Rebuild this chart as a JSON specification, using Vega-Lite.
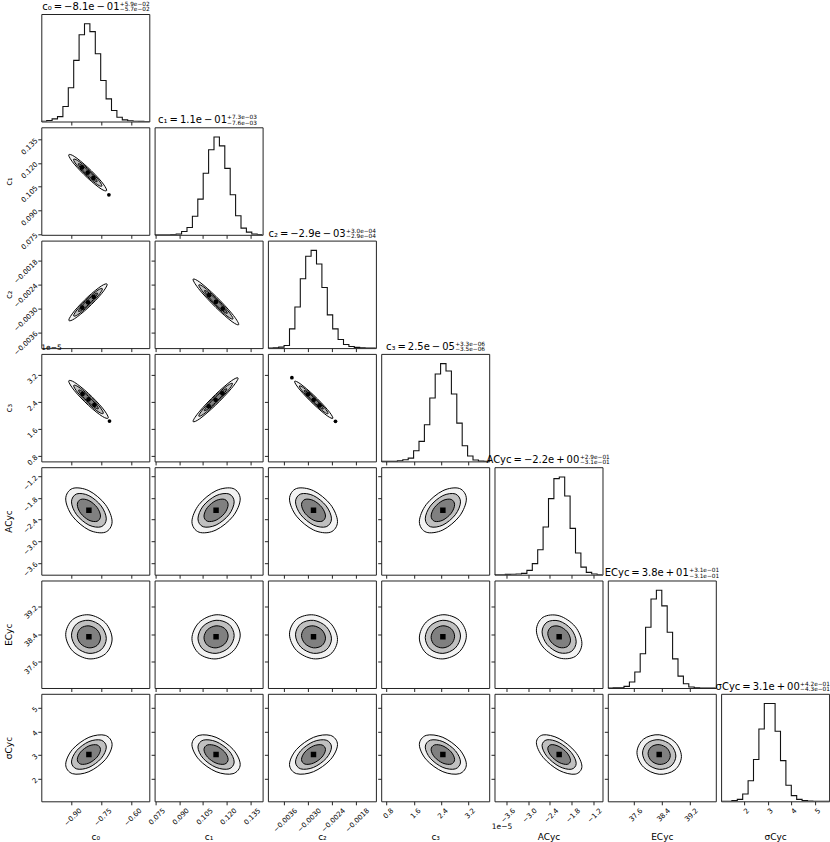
{
"$schema": "https://vega.github.io/schema/vega-lite/v6.json",
"padding": {"left": 3.3, "top": 0, "right": 0, "bottom": 0},
"background": "white",
"columns": 7,
"spacing": 5.3,
"bounds": "flush",
"config": {
"font": "DejaVu Sans",
"view": {"stroke": "#222", "strokeWidth": 1},
"axis": {"grid": false, "domain": false, "tickColor": "#222", "tickSize": 3.5, "tickWidth": 1, "tickCount": 10, "labelFontSize": 7, "labelColor": "#000", "labelAngle": -45, "labelFlush": false, "labelOverlap": false, "labelPadding": 1.5, "titleFontSize": 9, "titleFontWeight": "normal", "titleColor": "#000", "titlePadding": 2},
"title": {"fontWeight": "normal", "color": "#000"}
},
"datasets": {
"h": [
{"v":"c0","x":-1.05,"n":0.2},{"v":"c0","x":-1.023,"n":1},{"v":"c0","x":-0.996,"n":2.7},{"v":"c0","x":-0.969,"n":5},{"v":"c0","x":-0.942,"n":15.4},{"v":"c0","x":-0.915,"n":34.5},{"v":"c0","x":-0.888,"n":62.5},{"v":"c0","x":-0.861,"n":88.7},{"v":"c0","x":-0.834,"n":100},{"v":"c0","x":-0.807,"n":92},{"v":"c0","x":-0.78,"n":69.3},{"v":"c0","x":-0.753,"n":42},{"v":"c0","x":-0.726,"n":23.2},{"v":"c0","x":-0.699,"n":11.3},{"v":"c0","x":-0.672,"n":4.4},{"v":"c0","x":-0.645,"n":1.7},{"v":"c0","x":-0.618,"n":0.7},{"v":"c0","x":-0.591,"n":0.3},{"v":"c0","x":-0.564,"n":0.1},{"v":"c0","x":-0.537,"n":0},{"v":"c0","x":-0.51,"n":0},
{"v":"c1","x":0.0745,"n":0},{"v":"c1","x":0.0779,"n":0},{"v":"c1","x":0.0813,"n":0.1},{"v":"c1","x":0.0847,"n":0.3},{"v":"c1","x":0.0881,"n":0.7},{"v":"c1","x":0.0915,"n":3.4},{"v":"c1","x":0.0949,"n":7.5},{"v":"c1","x":0.0983,"n":19},{"v":"c1","x":0.1017,"n":36.5},{"v":"c1","x":0.1051,"n":63},{"v":"c1","x":0.1085,"n":87},{"v":"c1","x":0.1119,"n":100},{"v":"c1","x":0.1153,"n":91},{"v":"c1","x":0.1187,"n":68},{"v":"c1","x":0.1221,"n":41},{"v":"c1","x":0.1255,"n":19.5},{"v":"c1","x":0.1289,"n":6.8},{"v":"c1","x":0.1323,"n":2.7},{"v":"c1","x":0.1357,"n":0.7},{"v":"c1","x":0.1391,"n":0.2},{"v":"c1","x":0.1425,"n":0.2},
{"v":"c2","x":-0.004,"n":0},{"v":"c2","x":-0.003865,"n":0.3},{"v":"c2","x":-0.00373,"n":1},{"v":"c2","x":-0.003595,"n":2.7},{"v":"c2","x":-0.00346,"n":19.7},{"v":"c2","x":-0.003325,"n":42},{"v":"c2","x":-0.00319,"n":71},{"v":"c2","x":-0.003055,"n":94},{"v":"c2","x":-0.00292,"n":100},{"v":"c2","x":-0.002785,"n":86},{"v":"c2","x":-0.00265,"n":62},{"v":"c2","x":-0.002515,"n":34},{"v":"c2","x":-0.00238,"n":19.7},{"v":"c2","x":-0.002245,"n":8.8},{"v":"c2","x":-0.00211,"n":3.7},{"v":"c2","x":-0.001975,"n":1.7},{"v":"c2","x":-0.00184,"n":0.7},{"v":"c2","x":-0.001705,"n":0.2},{"v":"c2","x":-0.00157,"n":0},{"v":"c2","x":-0.001435,"n":0},{"v":"c2","x":-0.0013,"n":0},
{"v":"c3","x":0.64,"n":0},{"v":"c3","x":0.7985,"n":0},{"v":"c3","x":0.957,"n":0},{"v":"c3","x":1.1155,"n":0.7},{"v":"c3","x":1.274,"n":1.7},{"v":"c3","x":1.4325,"n":3.4},{"v":"c3","x":1.591,"n":10.9},{"v":"c3","x":1.7495,"n":20.5},{"v":"c3","x":1.908,"n":37.5},{"v":"c3","x":2.0665,"n":64.8},{"v":"c3","x":2.225,"n":89.4},{"v":"c3","x":2.3835,"n":100},{"v":"c3","x":2.542,"n":92.5},{"v":"c3","x":2.7005,"n":68.9},{"v":"c3","x":2.859,"n":39.2},{"v":"c3","x":3.0175,"n":16},{"v":"c3","x":3.176,"n":5.5},{"v":"c3","x":3.3345,"n":1.4},{"v":"c3","x":3.493,"n":0.3},{"v":"c3","x":3.6515,"n":0},{"v":"c3","x":3.81,"n":0},
{"v":"A","x":-3.93,"n":0},{"v":"A","x":-3.7805,"n":0},{"v":"A","x":-3.631,"n":0.3},{"v":"A","x":-3.4815,"n":0.5},{"v":"A","x":-3.332,"n":0.7},{"v":"A","x":-3.1825,"n":1.4},{"v":"A","x":-3.033,"n":4.4},{"v":"A","x":-2.8835,"n":11.3},{"v":"A","x":-2.734,"n":25.6},{"v":"A","x":-2.5845,"n":48.8},{"v":"A","x":-2.435,"n":77.8},{"v":"A","x":-2.2855,"n":98.3},{"v":"A","x":-2.136,"n":100},{"v":"A","x":-1.9865,"n":80.5},{"v":"A","x":-1.837,"n":47.4},{"v":"A","x":-1.6875,"n":22.2},{"v":"A","x":-1.538,"n":7.8},{"v":"A","x":-1.3885,"n":2.4},{"v":"A","x":-1.239,"n":0.7},{"v":"A","x":-1.0895,"n":0},{"v":"A","x":-0.94,"n":0},
{"v":"E","x":36.84,"n":0},{"v":"E","x":36.9955,"n":0.2},{"v":"E","x":37.151,"n":0.3},{"v":"E","x":37.3065,"n":1.7},{"v":"E","x":37.462,"n":6.1},{"v":"E","x":37.6175,"n":16.3},{"v":"E","x":37.773,"n":35},{"v":"E","x":37.9285,"n":62.2},{"v":"E","x":38.084,"n":91},{"v":"E","x":38.2395,"n":100},{"v":"E","x":38.395,"n":84},{"v":"E","x":38.5505,"n":57},{"v":"E","x":38.706,"n":29.8},{"v":"E","x":38.8615,"n":12.2},{"v":"E","x":39.017,"n":4.4},{"v":"E","x":39.1725,"n":1},{"v":"E","x":39.328,"n":0.3},{"v":"E","x":39.4835,"n":0},{"v":"E","x":39.639,"n":0},{"v":"E","x":39.7945,"n":0},{"v":"E","x":39.95,"n":0},
{"v":"S","x":1.04,"n":0},{"v":"S","x":1.2675,"n":0},{"v":"S","x":1.495,"n":0.7},{"v":"S","x":1.7225,"n":2},{"v":"S","x":1.95,"n":7.5},{"v":"S","x":2.1775,"n":21},{"v":"S","x":2.405,"n":42.7},{"v":"S","x":2.6325,"n":74},{"v":"S","x":2.86,"n":100},{"v":"S","x":3.0875,"n":100},{"v":"S","x":3.315,"n":71.7},{"v":"S","x":3.5425,"n":41.6},{"v":"S","x":3.77,"n":16.4},{"v":"S","x":3.9975,"n":5.8},{"v":"S","x":4.225,"n":2},{"v":"S","x":4.4525,"n":0.7},{"v":"S","x":4.68,"n":0.3},{"v":"S","x":4.9075,"n":0},{"v":"S","x":5.135,"n":0},{"v":"S","x":5.3625,"n":0},{"v":"S","x":5.59,"n":0}
],
"c": [
{"p":"10","k":"a","i":0,"x":-0.723,"y":0.1027},{"p":"10","k":"a","i":1,"x":-0.7508,"y":0.1084},{"p":"10","k":"a","i":2,"x":-0.818,"y":0.1172},{"p":"10","k":"a","i":3,"x":-0.8852,"y":0.1241},{"p":"10","k":"a","i":4,"x":-0.913,"y":0.1249},{"p":"10","k":"a","i":5,"x":-0.8852,"y":0.1192},{"p":"10","k":"a","i":6,"x":-0.818,"y":0.1104},{"p":"10","k":"a","i":7,"x":-0.7508,"y":0.1035},
{"p":"10","k":"b","i":0,"x":-0.7468,"y":0.1055},{"p":"10","k":"b","i":1,"x":-0.7676,"y":0.1098},{"p":"10","k":"b","i":2,"x":-0.818,"y":0.1164},{"p":"10","k":"b","i":3,"x":-0.8684,"y":0.1215},{"p":"10","k":"b","i":4,"x":-0.8893,"y":0.1221},{"p":"10","k":"b","i":5,"x":-0.8684,"y":0.1179},{"p":"10","k":"b","i":6,"x":-0.818,"y":0.1112},{"p":"10","k":"b","i":7,"x":-0.7676,"y":0.1061},
{"p":"10","k":"c","i":0,"x":-0.7705,"y":0.1083},{"p":"10","k":"c","i":1,"x":-0.7844,"y":0.1111},{"p":"10","k":"c","i":2,"x":-0.818,"y":0.1155},{"p":"10","k":"c","i":3,"x":-0.8516,"y":0.1189},{"p":"10","k":"c","i":4,"x":-0.8655,"y":0.1193},{"p":"10","k":"c","i":5,"x":-0.8516,"y":0.1165},{"p":"10","k":"c","i":6,"x":-0.818,"y":0.1121},{"p":"10","k":"c","i":7,"x":-0.7844,"y":0.1087},
{"p":"20","k":"a","i":0,"x":-0.7205,"y":-0.002403},{"p":"20","k":"a","i":1,"x":-0.7486,"y":-0.002436},{"p":"20","k":"a","i":2,"x":-0.8165,"y":-0.002711},{"p":"20","k":"a","i":3,"x":-0.8844,"y":-0.003068},{"p":"20","k":"a","i":4,"x":-0.9125,"y":-0.003297},{"p":"20","k":"a","i":5,"x":-0.8844,"y":-0.003264},{"p":"20","k":"a","i":6,"x":-0.8165,"y":-0.002989},{"p":"20","k":"a","i":7,"x":-0.7486,"y":-0.002632},
{"p":"20","k":"b","i":0,"x":-0.7445,"y":-0.002515},{"p":"20","k":"b","i":1,"x":-0.7656,"y":-0.002539},{"p":"20","k":"b","i":2,"x":-0.8165,"y":-0.002746},{"p":"20","k":"b","i":3,"x":-0.8674,"y":-0.003014},{"p":"20","k":"b","i":4,"x":-0.8885,"y":-0.003185},{"p":"20","k":"b","i":5,"x":-0.8674,"y":-0.003161},{"p":"20","k":"b","i":6,"x":-0.8165,"y":-0.002954},{"p":"20","k":"b","i":7,"x":-0.7656,"y":-0.002687},
{"p":"20","k":"c","i":0,"x":-0.7685,"y":-0.002627},{"p":"20","k":"c","i":1,"x":-0.7826,"y":-0.002643},{"p":"20","k":"c","i":2,"x":-0.8165,"y":-0.002781},{"p":"20","k":"c","i":3,"x":-0.8504,"y":-0.002959},{"p":"20","k":"c","i":4,"x":-0.8645,"y":-0.003073},{"p":"20","k":"c","i":5,"x":-0.8504,"y":-0.003057},{"p":"20","k":"c","i":6,"x":-0.8165,"y":-0.002919},{"p":"20","k":"c","i":7,"x":-0.7826,"y":-0.002741},
{"p":"21","k":"a","i":0,"x":0.1275,"y":-0.003403},{"p":"21","k":"a","i":1,"x":0.1233,"y":-0.003138},{"p":"21","k":"a","i":2,"x":0.1131,"y":-0.002699},{"p":"21","k":"a","i":3,"x":0.1029,"y":-0.002343},{"p":"21","k":"a","i":4,"x":0.0987,"y":-0.002277},{"p":"21","k":"a","i":5,"x":0.1029,"y":-0.002542},{"p":"21","k":"a","i":6,"x":0.1131,"y":-0.002981},{"p":"21","k":"a","i":7,"x":0.1233,"y":-0.003337},
{"p":"21","k":"b","i":0,"x":0.1239,"y":-0.003262},{"p":"21","k":"b","i":1,"x":0.1207,"y":-0.003064},{"p":"21","k":"b","i":2,"x":0.1131,"y":-0.002734},{"p":"21","k":"b","i":3,"x":0.1055,"y":-0.002467},{"p":"21","k":"b","i":4,"x":0.1023,"y":-0.002418},{"p":"21","k":"b","i":5,"x":0.1055,"y":-0.002617},{"p":"21","k":"b","i":6,"x":0.1131,"y":-0.002946},{"p":"21","k":"b","i":7,"x":0.1207,"y":-0.003213},
{"p":"21","k":"c","i":0,"x":0.1203,"y":-0.003121},{"p":"21","k":"c","i":1,"x":0.1182,"y":-0.002989},{"p":"21","k":"c","i":2,"x":0.1131,"y":-0.00277},{"p":"21","k":"c","i":3,"x":0.108,"y":-0.002591},{"p":"21","k":"c","i":4,"x":0.1059,"y":-0.002559},{"p":"21","k":"c","i":5,"x":0.108,"y":-0.002691},{"p":"21","k":"c","i":6,"x":0.1131,"y":-0.002911},{"p":"21","k":"c","i":7,"x":0.1182,"y":-0.003089},
{"p":"30","k":"a","i":0,"x":-0.715,"y":1.931},{"p":"30","k":"a","i":1,"x":-0.744,"y":2.213},{"p":"30","k":"a","i":2,"x":-0.814,"y":2.644},{"p":"30","k":"a","i":3,"x":-0.884,"y":2.972},{"p":"30","k":"a","i":4,"x":-0.913,"y":3.005},{"p":"30","k":"a","i":5,"x":-0.884,"y":2.723},{"p":"30","k":"a","i":6,"x":-0.814,"y":2.292},{"p":"30","k":"a","i":7,"x":-0.744,"y":1.964},
{"p":"30","k":"b","i":0,"x":-0.7398,"y":2.065},{"p":"30","k":"b","i":1,"x":-0.7615,"y":2.277},{"p":"30","k":"b","i":2,"x":-0.814,"y":2.6},{"p":"30","k":"b","i":3,"x":-0.8665,"y":2.846},{"p":"30","k":"b","i":4,"x":-0.8883,"y":2.871},{"p":"30","k":"b","i":5,"x":-0.8665,"y":2.659},{"p":"30","k":"b","i":6,"x":-0.814,"y":2.336},{"p":"30","k":"b","i":7,"x":-0.7615,"y":2.09},
{"p":"30","k":"c","i":0,"x":-0.7645,"y":2.2},{"p":"30","k":"c","i":1,"x":-0.779,"y":2.341},{"p":"30","k":"c","i":2,"x":-0.814,"y":2.556},{"p":"30","k":"c","i":3,"x":-0.849,"y":2.72},{"p":"30","k":"c","i":4,"x":-0.8635,"y":2.736},{"p":"30","k":"c","i":5,"x":-0.849,"y":2.595},{"p":"30","k":"c","i":6,"x":-0.814,"y":2.38},{"p":"30","k":"c","i":7,"x":-0.779,"y":2.216},
{"p":"31","k":"a","i":0,"x":0.1271,"y":3.091},{"p":"31","k":"a","i":1,"x":0.1229,"y":3.018},{"p":"31","k":"a","i":2,"x":0.1129,"y":2.616},{"p":"31","k":"a","i":3,"x":0.1029,"y":2.121},{"p":"31","k":"a","i":4,"x":0.0987,"y":1.823},{"p":"31","k":"a","i":5,"x":0.1029,"y":1.896},{"p":"31","k":"a","i":6,"x":0.1129,"y":2.298},{"p":"31","k":"a","i":7,"x":0.1229,"y":2.793},
{"p":"31","k":"b","i":0,"x":0.1236,"y":2.933},{"p":"31","k":"b","i":1,"x":0.1204,"y":2.878},{"p":"31","k":"b","i":2,"x":0.1129,"y":2.576},{"p":"31","k":"b","i":3,"x":0.1054,"y":2.205},{"p":"31","k":"b","i":4,"x":0.1023,"y":1.981},{"p":"31","k":"b","i":5,"x":0.1054,"y":2.036},{"p":"31","k":"b","i":6,"x":0.1129,"y":2.338},{"p":"31","k":"b","i":7,"x":0.1204,"y":2.709},
{"p":"31","k":"c","i":0,"x":0.12,"y":2.774},{"p":"31","k":"c","i":1,"x":0.1179,"y":2.738},{"p":"31","k":"c","i":2,"x":0.1129,"y":2.537},{"p":"31","k":"c","i":3,"x":0.1079,"y":2.289},{"p":"31","k":"c","i":4,"x":0.1058,"y":2.14},{"p":"31","k":"c","i":5,"x":0.1079,"y":2.177},{"p":"31","k":"c","i":6,"x":0.1129,"y":2.378},{"p":"31","k":"c","i":7,"x":0.1179,"y":2.625},
{"p":"32","k":"a","i":0,"x":-0.002374,"y":1.92},{"p":"32","k":"a","i":1,"x":-0.002514,"y":2.172},{"p":"32","k":"a","i":2,"x":-0.002854,"y":2.592},{"p":"32","k":"a","i":3,"x":-0.003194,"y":2.932},{"p":"32","k":"a","i":4,"x":-0.003334,"y":2.994},{"p":"32","k":"a","i":5,"x":-0.003194,"y":2.742},{"p":"32","k":"a","i":6,"x":-0.002854,"y":2.322},{"p":"32","k":"a","i":7,"x":-0.002514,"y":1.982},
{"p":"32","k":"b","i":0,"x":-0.002494,"y":2.054},{"p":"32","k":"b","i":1,"x":-0.002599,"y":2.243},{"p":"32","k":"b","i":2,"x":-0.002854,"y":2.558},{"p":"32","k":"b","i":3,"x":-0.003109,"y":2.813},{"p":"32","k":"b","i":4,"x":-0.003214,"y":2.86},{"p":"32","k":"b","i":5,"x":-0.003109,"y":2.671},{"p":"32","k":"b","i":6,"x":-0.002854,"y":2.356},{"p":"32","k":"b","i":7,"x":-0.002599,"y":2.101},
{"p":"32","k":"c","i":0,"x":-0.002614,"y":2.188},{"p":"32","k":"c","i":1,"x":-0.002684,"y":2.315},{"p":"32","k":"c","i":2,"x":-0.002854,"y":2.524},{"p":"32","k":"c","i":3,"x":-0.003024,"y":2.695},{"p":"32","k":"c","i":4,"x":-0.003094,"y":2.726},{"p":"32","k":"c","i":5,"x":-0.003024,"y":2.599},{"p":"32","k":"c","i":6,"x":-0.002854,"y":2.39},{"p":"32","k":"c","i":7,"x":-0.002684,"y":2.219},
{"p":"40","k":"a","i":0,"x":-0.696,"y":-2.455},{"p":"40","k":"a","i":1,"x":-0.73,"y":-1.977},{"p":"40","k":"a","i":2,"x":-0.812,"y":-1.594},{"p":"40","k":"a","i":3,"x":-0.894,"y":-1.532},{"p":"40","k":"a","i":4,"x":-0.928,"y":-1.825},{"p":"40","k":"a","i":5,"x":-0.894,"y":-2.303},{"p":"40","k":"a","i":6,"x":-0.812,"y":-2.686},{"p":"40","k":"a","i":7,"x":-0.73,"y":-2.748},
{"p":"40","k":"b","i":0,"x":-0.725,"y":-2.376},{"p":"40","k":"b","i":1,"x":-0.7505,"y":-2.018},{"p":"40","k":"b","i":2,"x":-0.812,"y":-1.731},{"p":"40","k":"b","i":3,"x":-0.8735,"y":-1.684},{"p":"40","k":"b","i":4,"x":-0.899,"y":-1.904},{"p":"40","k":"b","i":5,"x":-0.8735,"y":-2.262},{"p":"40","k":"b","i":6,"x":-0.812,"y":-2.549},{"p":"40","k":"b","i":7,"x":-0.7505,"y":-2.596},
{"p":"40","k":"c","i":0,"x":-0.754,"y":-2.298},{"p":"40","k":"c","i":1,"x":-0.771,"y":-2.059},{"p":"40","k":"c","i":2,"x":-0.812,"y":-1.867},{"p":"40","k":"c","i":3,"x":-0.853,"y":-1.836},{"p":"40","k":"c","i":4,"x":-0.87,"y":-1.983},{"p":"40","k":"c","i":5,"x":-0.853,"y":-2.222},{"p":"40","k":"c","i":6,"x":-0.812,"y":-2.413},{"p":"40","k":"c","i":7,"x":-0.771,"y":-2.444},
{"p":"41","k":"a","i":0,"x":0.1284,"y":-1.825},{"p":"41","k":"a","i":1,"x":0.1239,"y":-1.532},{"p":"41","k":"a","i":2,"x":0.1132,"y":-1.594},{"p":"41","k":"a","i":3,"x":0.1025,"y":-1.977},{"p":"41","k":"a","i":4,"x":0.098,"y":-2.455},{"p":"41","k":"a","i":5,"x":0.1025,"y":-2.748},{"p":"41","k":"a","i":6,"x":0.1132,"y":-2.686},{"p":"41","k":"a","i":7,"x":0.1239,"y":-2.303},
{"p":"41","k":"b","i":0,"x":0.1246,"y":-1.904},{"p":"41","k":"b","i":1,"x":0.1213,"y":-1.684},{"p":"41","k":"b","i":2,"x":0.1132,"y":-1.731},{"p":"41","k":"b","i":3,"x":0.1051,"y":-2.018},{"p":"41","k":"b","i":4,"x":0.1018,"y":-2.376},{"p":"41","k":"b","i":5,"x":0.1051,"y":-2.596},{"p":"41","k":"b","i":6,"x":0.1132,"y":-2.549},{"p":"41","k":"b","i":7,"x":0.1213,"y":-2.262},
{"p":"41","k":"c","i":0,"x":0.1208,"y":-1.983},{"p":"41","k":"c","i":1,"x":0.1186,"y":-1.836},{"p":"41","k":"c","i":2,"x":0.1132,"y":-1.867},{"p":"41","k":"c","i":3,"x":0.1078,"y":-2.059},{"p":"41","k":"c","i":4,"x":0.1056,"y":-2.298},{"p":"41","k":"c","i":5,"x":0.1078,"y":-2.444},{"p":"41","k":"c","i":6,"x":0.1132,"y":-2.413},{"p":"41","k":"c","i":7,"x":0.1186,"y":-2.222},
{"p":"42","k":"a","i":0,"x":-0.00226,"y":-2.455},{"p":"42","k":"a","i":1,"x":-0.002436,"y":-1.977},{"p":"42","k":"a","i":2,"x":-0.00286,"y":-1.594},{"p":"42","k":"a","i":3,"x":-0.003284,"y":-1.532},{"p":"42","k":"a","i":4,"x":-0.00346,"y":-1.825},{"p":"42","k":"a","i":5,"x":-0.003284,"y":-2.303},{"p":"42","k":"a","i":6,"x":-0.00286,"y":-2.686},{"p":"42","k":"a","i":7,"x":-0.002436,"y":-2.748},
{"p":"42","k":"b","i":0,"x":-0.00241,"y":-2.376},{"p":"42","k":"b","i":1,"x":-0.002542,"y":-2.018},{"p":"42","k":"b","i":2,"x":-0.00286,"y":-1.731},{"p":"42","k":"b","i":3,"x":-0.003178,"y":-1.684},{"p":"42","k":"b","i":4,"x":-0.00331,"y":-1.904},{"p":"42","k":"b","i":5,"x":-0.003178,"y":-2.262},{"p":"42","k":"b","i":6,"x":-0.00286,"y":-2.549},{"p":"42","k":"b","i":7,"x":-0.002542,"y":-2.596},
{"p":"42","k":"c","i":0,"x":-0.00256,"y":-2.298},{"p":"42","k":"c","i":1,"x":-0.002648,"y":-2.059},{"p":"42","k":"c","i":2,"x":-0.00286,"y":-1.867},{"p":"42","k":"c","i":3,"x":-0.003072,"y":-1.836},{"p":"42","k":"c","i":4,"x":-0.00316,"y":-1.983},{"p":"42","k":"c","i":5,"x":-0.003072,"y":-2.222},{"p":"42","k":"c","i":6,"x":-0.00286,"y":-2.413},{"p":"42","k":"c","i":7,"x":-0.002648,"y":-2.444},
{"p":"43","k":"a","i":0,"x":3.14,"y":-1.825},{"p":"43","k":"a","i":1,"x":2.938,"y":-1.532},{"p":"43","k":"a","i":2,"x":2.45,"y":-1.594},{"p":"43","k":"a","i":3,"x":1.962,"y":-1.977},{"p":"43","k":"a","i":4,"x":1.76,"y":-2.455},{"p":"43","k":"a","i":5,"x":1.962,"y":-2.748},{"p":"43","k":"a","i":6,"x":2.45,"y":-2.686},{"p":"43","k":"a","i":7,"x":2.938,"y":-2.303},
{"p":"43","k":"b","i":0,"x":2.968,"y":-1.904},{"p":"43","k":"b","i":1,"x":2.816,"y":-1.684},{"p":"43","k":"b","i":2,"x":2.45,"y":-1.731},{"p":"43","k":"b","i":3,"x":2.084,"y":-2.018},{"p":"43","k":"b","i":4,"x":1.933,"y":-2.376},{"p":"43","k":"b","i":5,"x":2.084,"y":-2.596},{"p":"43","k":"b","i":6,"x":2.45,"y":-2.549},{"p":"43","k":"b","i":7,"x":2.816,"y":-2.262},
{"p":"43","k":"c","i":0,"x":2.795,"y":-1.983},{"p":"43","k":"c","i":1,"x":2.694,"y":-1.836},{"p":"43","k":"c","i":2,"x":2.45,"y":-1.867},{"p":"43","k":"c","i":3,"x":2.206,"y":-2.059},{"p":"43","k":"c","i":4,"x":2.105,"y":-2.298},{"p":"43","k":"c","i":5,"x":2.206,"y":-2.444},{"p":"43","k":"c","i":6,"x":2.45,"y":-2.413},{"p":"43","k":"c","i":7,"x":2.694,"y":-2.222},
{"p":"50","k":"a","i":0,"x":-0.696,"y":38.256},{"p":"50","k":"a","i":1,"x":-0.73,"y":38.725},{"p":"50","k":"a","i":2,"x":-0.812,"y":38.957},{"p":"50","k":"a","i":3,"x":-0.894,"y":38.815},{"p":"50","k":"a","i":4,"x":-0.928,"y":38.384},{"p":"50","k":"a","i":5,"x":-0.894,"y":37.915},{"p":"50","k":"a","i":6,"x":-0.812,"y":37.683},{"p":"50","k":"a","i":7,"x":-0.73,"y":37.825},
{"p":"50","k":"b","i":0,"x":-0.725,"y":38.272},{"p":"50","k":"b","i":1,"x":-0.7505,"y":38.624},{"p":"50","k":"b","i":2,"x":-0.812,"y":38.798},{"p":"50","k":"b","i":3,"x":-0.8735,"y":38.692},{"p":"50","k":"b","i":4,"x":-0.899,"y":38.368},{"p":"50","k":"b","i":5,"x":-0.8735,"y":38.016},{"p":"50","k":"b","i":6,"x":-0.812,"y":37.842},{"p":"50","k":"b","i":7,"x":-0.7505,"y":37.948},
{"p":"50","k":"c","i":0,"x":-0.754,"y":38.288},{"p":"50","k":"c","i":1,"x":-0.771,"y":38.523},{"p":"50","k":"c","i":2,"x":-0.812,"y":38.638},{"p":"50","k":"c","i":3,"x":-0.853,"y":38.568},{"p":"50","k":"c","i":4,"x":-0.87,"y":38.352},{"p":"50","k":"c","i":5,"x":-0.853,"y":38.118},{"p":"50","k":"c","i":6,"x":-0.812,"y":38.002},{"p":"50","k":"c","i":7,"x":-0.771,"y":38.072},
{"p":"51","k":"a","i":0,"x":0.1284,"y":38.371},{"p":"51","k":"a","i":1,"x":0.1239,"y":38.807},{"p":"51","k":"a","i":2,"x":0.1132,"y":38.958},{"p":"51","k":"a","i":3,"x":0.1025,"y":38.735},{"p":"51","k":"a","i":4,"x":0.098,"y":38.269},{"p":"51","k":"a","i":5,"x":0.1025,"y":37.833},{"p":"51","k":"a","i":6,"x":0.1132,"y":37.682},{"p":"51","k":"a","i":7,"x":0.1239,"y":37.905},
{"p":"51","k":"b","i":0,"x":0.1246,"y":38.358},{"p":"51","k":"b","i":1,"x":0.1213,"y":38.685},{"p":"51","k":"b","i":2,"x":0.1132,"y":38.799},{"p":"51","k":"b","i":3,"x":0.1051,"y":38.631},{"p":"51","k":"b","i":4,"x":0.1018,"y":38.282},{"p":"51","k":"b","i":5,"x":0.1051,"y":37.955},{"p":"51","k":"b","i":6,"x":0.1132,"y":37.842},{"p":"51","k":"b","i":7,"x":0.1213,"y":38.009},
{"p":"51","k":"c","i":0,"x":0.1208,"y":38.346},{"p":"51","k":"c","i":1,"x":0.1186,"y":38.564},{"p":"51","k":"c","i":2,"x":0.1132,"y":38.639},{"p":"51","k":"c","i":3,"x":0.1078,"y":38.527},{"p":"51","k":"c","i":4,"x":0.1056,"y":38.294},{"p":"51","k":"c","i":5,"x":0.1078,"y":38.076},{"p":"51","k":"c","i":6,"x":0.1132,"y":38.001},{"p":"51","k":"c","i":7,"x":0.1186,"y":38.113},
{"p":"52","k":"a","i":0,"x":-0.00226,"y":38.243},{"p":"52","k":"a","i":1,"x":-0.002436,"y":38.715},{"p":"52","k":"a","i":2,"x":-0.00286,"y":38.955},{"p":"52","k":"a","i":3,"x":-0.003284,"y":38.824},{"p":"52","k":"a","i":4,"x":-0.00346,"y":38.397},{"p":"52","k":"a","i":5,"x":-0.003284,"y":37.925},{"p":"52","k":"a","i":6,"x":-0.00286,"y":37.685},{"p":"52","k":"a","i":7,"x":-0.002436,"y":37.816},
{"p":"52","k":"b","i":0,"x":-0.00241,"y":38.262},{"p":"52","k":"b","i":1,"x":-0.002542,"y":38.616},{"p":"52","k":"b","i":2,"x":-0.00286,"y":38.797},{"p":"52","k":"b","i":3,"x":-0.003178,"y":38.698},{"p":"52","k":"b","i":4,"x":-0.00331,"y":38.378},{"p":"52","k":"b","i":5,"x":-0.003178,"y":38.024},{"p":"52","k":"b","i":6,"x":-0.00286,"y":37.843},{"p":"52","k":"b","i":7,"x":-0.002542,"y":37.942},
{"p":"52","k":"c","i":0,"x":-0.00256,"y":38.282},{"p":"52","k":"c","i":1,"x":-0.002648,"y":38.518},{"p":"52","k":"c","i":2,"x":-0.00286,"y":38.638},{"p":"52","k":"c","i":3,"x":-0.003072,"y":38.572},{"p":"52","k":"c","i":4,"x":-0.00316,"y":38.358},{"p":"52","k":"c","i":5,"x":-0.003072,"y":38.123},{"p":"52","k":"c","i":6,"x":-0.00286,"y":38.002},{"p":"52","k":"c","i":7,"x":-0.002648,"y":38.068},
{"p":"53","k":"a","i":0,"x":3.14,"y":38.352},{"p":"53","k":"a","i":1,"x":2.938,"y":38.795},{"p":"53","k":"a","i":2,"x":2.45,"y":38.959},{"p":"53","k":"a","i":3,"x":1.962,"y":38.749},{"p":"53","k":"a","i":4,"x":1.76,"y":38.288},{"p":"53","k":"a","i":5,"x":1.962,"y":37.845},{"p":"53","k":"a","i":6,"x":2.45,"y":37.681},{"p":"53","k":"a","i":7,"x":2.938,"y":37.891},
{"p":"53","k":"b","i":0,"x":2.968,"y":38.344},{"p":"53","k":"b","i":1,"x":2.816,"y":38.676},{"p":"53","k":"b","i":2,"x":2.45,"y":38.799},{"p":"53","k":"b","i":3,"x":2.084,"y":38.642},{"p":"53","k":"b","i":4,"x":1.933,"y":38.296},{"p":"53","k":"b","i":5,"x":2.084,"y":37.964},{"p":"53","k":"b","i":6,"x":2.45,"y":37.841},{"p":"53","k":"b","i":7,"x":2.816,"y":37.998},
{"p":"53","k":"c","i":0,"x":2.795,"y":38.336},{"p":"53","k":"c","i":1,"x":2.694,"y":38.557},{"p":"53","k":"c","i":2,"x":2.45,"y":38.64},{"p":"53","k":"c","i":3,"x":2.206,"y":38.535},{"p":"53","k":"c","i":4,"x":2.105,"y":38.304},{"p":"53","k":"c","i":5,"x":2.206,"y":38.083},{"p":"53","k":"c","i":6,"x":2.45,"y":38.0},{"p":"53","k":"c","i":7,"x":2.694,"y":38.105},
{"p":"54","k":"a","i":0,"x":-1.51,"y":38.128},{"p":"54","k":"a","i":1,"x":-1.695,"y":38.616},{"p":"54","k":"a","i":2,"x":-2.14,"y":38.93},{"p":"54","k":"a","i":3,"x":-2.585,"y":38.887},{"p":"54","k":"a","i":4,"x":-2.77,"y":38.512},{"p":"54","k":"a","i":5,"x":-2.585,"y":38.024},{"p":"54","k":"a","i":6,"x":-2.14,"y":37.71},{"p":"54","k":"a","i":7,"x":-1.695,"y":37.753},
{"p":"54","k":"b","i":0,"x":-1.668,"y":38.176},{"p":"54","k":"b","i":1,"x":-1.806,"y":38.542},{"p":"54","k":"b","i":2,"x":-2.14,"y":38.778},{"p":"54","k":"b","i":3,"x":-2.474,"y":38.745},{"p":"54","k":"b","i":4,"x":-2.613,"y":38.464},{"p":"54","k":"b","i":5,"x":-2.474,"y":38.098},{"p":"54","k":"b","i":6,"x":-2.14,"y":37.862},{"p":"54","k":"b","i":7,"x":-1.806,"y":37.895},
{"p":"54","k":"c","i":0,"x":-1.825,"y":38.224},{"p":"54","k":"c","i":1,"x":-1.917,"y":38.468},{"p":"54","k":"c","i":2,"x":-2.14,"y":38.625},{"p":"54","k":"c","i":3,"x":-2.363,"y":38.604},{"p":"54","k":"c","i":4,"x":-2.455,"y":38.416},{"p":"54","k":"c","i":5,"x":-2.363,"y":38.172},{"p":"54","k":"c","i":6,"x":-2.14,"y":38.015},{"p":"54","k":"c","i":7,"x":-1.917,"y":38.036},
{"p":"60","k":"a","i":0,"x":-0.696,"y":3.44},{"p":"60","k":"a","i":1,"x":-0.73,"y":3.831},{"p":"60","k":"a","i":2,"x":-0.812,"y":3.747},{"p":"60","k":"a","i":3,"x":-0.894,"y":3.237},{"p":"60","k":"a","i":4,"x":-0.928,"y":2.6},{"p":"60","k":"a","i":5,"x":-0.894,"y":2.209},{"p":"60","k":"a","i":6,"x":-0.812,"y":2.293},{"p":"60","k":"a","i":7,"x":-0.73,"y":2.803},
{"p":"60","k":"b","i":0,"x":-0.725,"y":3.335},{"p":"60","k":"b","i":1,"x":-0.7505,"y":3.628},{"p":"60","k":"b","i":2,"x":-0.812,"y":3.566},{"p":"60","k":"b","i":3,"x":-0.8735,"y":3.183},{"p":"60","k":"b","i":4,"x":-0.899,"y":2.705},{"p":"60","k":"b","i":5,"x":-0.8735,"y":2.412},{"p":"60","k":"b","i":6,"x":-0.812,"y":2.474},{"p":"60","k":"b","i":7,"x":-0.7505,"y":2.857},
{"p":"60","k":"c","i":0,"x":-0.754,"y":3.23},{"p":"60","k":"c","i":1,"x":-0.771,"y":3.426},{"p":"60","k":"c","i":2,"x":-0.812,"y":3.384},{"p":"60","k":"c","i":3,"x":-0.853,"y":3.129},{"p":"60","k":"c","i":4,"x":-0.87,"y":2.81},{"p":"60","k":"c","i":5,"x":-0.853,"y":2.614},{"p":"60","k":"c","i":6,"x":-0.812,"y":2.656},{"p":"60","k":"c","i":7,"x":-0.771,"y":2.911},
{"p":"61","k":"a","i":0,"x":0.1284,"y":2.6},{"p":"61","k":"a","i":1,"x":0.1239,"y":3.237},{"p":"61","k":"a","i":2,"x":0.1132,"y":3.747},{"p":"61","k":"a","i":3,"x":0.1025,"y":3.831},{"p":"61","k":"a","i":4,"x":0.098,"y":3.44},{"p":"61","k":"a","i":5,"x":0.1025,"y":2.803},{"p":"61","k":"a","i":6,"x":0.1132,"y":2.293},{"p":"61","k":"a","i":7,"x":0.1239,"y":2.209},
{"p":"61","k":"b","i":0,"x":0.1246,"y":2.705},{"p":"61","k":"b","i":1,"x":0.1213,"y":3.183},{"p":"61","k":"b","i":2,"x":0.1132,"y":3.566},{"p":"61","k":"b","i":3,"x":0.1051,"y":3.628},{"p":"61","k":"b","i":4,"x":0.1018,"y":3.335},{"p":"61","k":"b","i":5,"x":0.1051,"y":2.857},{"p":"61","k":"b","i":6,"x":0.1132,"y":2.474},{"p":"61","k":"b","i":7,"x":0.1213,"y":2.412},
{"p":"61","k":"c","i":0,"x":0.1208,"y":2.81},{"p":"61","k":"c","i":1,"x":0.1186,"y":3.129},{"p":"61","k":"c","i":2,"x":0.1132,"y":3.384},{"p":"61","k":"c","i":3,"x":0.1078,"y":3.426},{"p":"61","k":"c","i":4,"x":0.1056,"y":3.23},{"p":"61","k":"c","i":5,"x":0.1078,"y":2.911},{"p":"61","k":"c","i":6,"x":0.1132,"y":2.656},{"p":"61","k":"c","i":7,"x":0.1186,"y":2.614},
{"p":"62","k":"a","i":0,"x":-0.00226,"y":3.44},{"p":"62","k":"a","i":1,"x":-0.002436,"y":3.831},{"p":"62","k":"a","i":2,"x":-0.00286,"y":3.747},{"p":"62","k":"a","i":3,"x":-0.003284,"y":3.237},{"p":"62","k":"a","i":4,"x":-0.00346,"y":2.6},{"p":"62","k":"a","i":5,"x":-0.003284,"y":2.209},{"p":"62","k":"a","i":6,"x":-0.00286,"y":2.293},{"p":"62","k":"a","i":7,"x":-0.002436,"y":2.803},
{"p":"62","k":"b","i":0,"x":-0.00241,"y":3.335},{"p":"62","k":"b","i":1,"x":-0.002542,"y":3.628},{"p":"62","k":"b","i":2,"x":-0.00286,"y":3.566},{"p":"62","k":"b","i":3,"x":-0.003178,"y":3.183},{"p":"62","k":"b","i":4,"x":-0.00331,"y":2.705},{"p":"62","k":"b","i":5,"x":-0.003178,"y":2.412},{"p":"62","k":"b","i":6,"x":-0.00286,"y":2.474},{"p":"62","k":"b","i":7,"x":-0.002542,"y":2.857},
{"p":"62","k":"c","i":0,"x":-0.00256,"y":3.23},{"p":"62","k":"c","i":1,"x":-0.002648,"y":3.426},{"p":"62","k":"c","i":2,"x":-0.00286,"y":3.384},{"p":"62","k":"c","i":3,"x":-0.003072,"y":3.129},{"p":"62","k":"c","i":4,"x":-0.00316,"y":2.81},{"p":"62","k":"c","i":5,"x":-0.003072,"y":2.614},{"p":"62","k":"c","i":6,"x":-0.00286,"y":2.656},{"p":"62","k":"c","i":7,"x":-0.002648,"y":2.911},
{"p":"63","k":"a","i":0,"x":3.14,"y":2.6},{"p":"63","k":"a","i":1,"x":2.938,"y":3.237},{"p":"63","k":"a","i":2,"x":2.45,"y":3.747},{"p":"63","k":"a","i":3,"x":1.962,"y":3.831},{"p":"63","k":"a","i":4,"x":1.76,"y":3.44},{"p":"63","k":"a","i":5,"x":1.962,"y":2.803},{"p":"63","k":"a","i":6,"x":2.45,"y":2.293},{"p":"63","k":"a","i":7,"x":2.938,"y":2.209},
{"p":"63","k":"b","i":0,"x":2.968,"y":2.705},{"p":"63","k":"b","i":1,"x":2.816,"y":3.183},{"p":"63","k":"b","i":2,"x":2.45,"y":3.566},{"p":"63","k":"b","i":3,"x":2.084,"y":3.628},{"p":"63","k":"b","i":4,"x":1.933,"y":3.335},{"p":"63","k":"b","i":5,"x":2.084,"y":2.857},{"p":"63","k":"b","i":6,"x":2.45,"y":2.474},{"p":"63","k":"b","i":7,"x":2.816,"y":2.412},
{"p":"63","k":"c","i":0,"x":2.795,"y":2.81},{"p":"63","k":"c","i":1,"x":2.694,"y":3.129},{"p":"63","k":"c","i":2,"x":2.45,"y":3.384},{"p":"63","k":"c","i":3,"x":2.206,"y":3.426},{"p":"63","k":"c","i":4,"x":2.105,"y":3.23},{"p":"63","k":"c","i":5,"x":2.206,"y":2.911},{"p":"63","k":"c","i":6,"x":2.45,"y":2.656},{"p":"63","k":"c","i":7,"x":2.694,"y":2.614},
{"p":"64","k":"a","i":0,"x":-1.51,"y":2.516},{"p":"64","k":"a","i":1,"x":-1.695,"y":3.139},{"p":"64","k":"a","i":2,"x":-2.14,"y":3.692},{"p":"64","k":"a","i":3,"x":-2.585,"y":3.851},{"p":"64","k":"a","i":4,"x":-2.77,"y":3.524},{"p":"64","k":"a","i":5,"x":-2.585,"y":2.901},{"p":"64","k":"a","i":6,"x":-2.14,"y":2.348},{"p":"64","k":"a","i":7,"x":-1.695,"y":2.189},
{"p":"64","k":"b","i":0,"x":-1.668,"y":2.642},{"p":"64","k":"b","i":1,"x":-1.806,"y":3.109},{"p":"64","k":"b","i":2,"x":-2.14,"y":3.524},{"p":"64","k":"b","i":3,"x":-2.474,"y":3.644},{"p":"64","k":"b","i":4,"x":-2.613,"y":3.398},{"p":"64","k":"b","i":5,"x":-2.474,"y":2.931},{"p":"64","k":"b","i":6,"x":-2.14,"y":2.516},{"p":"64","k":"b","i":7,"x":-1.806,"y":2.396},
{"p":"64","k":"c","i":0,"x":-1.825,"y":2.768},{"p":"64","k":"c","i":1,"x":-1.917,"y":3.079},{"p":"64","k":"c","i":2,"x":-2.14,"y":3.356},{"p":"64","k":"c","i":3,"x":-2.363,"y":3.436},{"p":"64","k":"c","i":4,"x":-2.455,"y":3.272},{"p":"64","k":"c","i":5,"x":-2.363,"y":2.961},{"p":"64","k":"c","i":6,"x":-2.14,"y":2.684},{"p":"64","k":"c","i":7,"x":-1.917,"y":2.604},
{"p":"65","k":"a","i":0,"x":38.96,"y":2.936},{"p":"65","k":"a","i":1,"x":38.772,"y":3.552},{"p":"65","k":"a","i":2,"x":38.32,"y":3.856},{"p":"65","k":"a","i":3,"x":37.868,"y":3.67},{"p":"65","k":"a","i":4,"x":37.68,"y":3.104},{"p":"65","k":"a","i":5,"x":37.868,"y":2.488},{"p":"65","k":"a","i":6,"x":38.32,"y":2.184},{"p":"65","k":"a","i":7,"x":38.772,"y":2.37},
{"p":"65","k":"b","i":0,"x":38.8,"y":2.957},{"p":"65","k":"b","i":1,"x":38.659,"y":3.419},{"p":"65","k":"b","i":2,"x":38.32,"y":3.647},{"p":"65","k":"b","i":3,"x":37.981,"y":3.508},{"p":"65","k":"b","i":4,"x":37.84,"y":3.083},{"p":"65","k":"b","i":5,"x":37.981,"y":2.621},{"p":"65","k":"b","i":6,"x":38.32,"y":2.393},{"p":"65","k":"b","i":7,"x":38.659,"y":2.532},
{"p":"65","k":"c","i":0,"x":38.64,"y":2.978},{"p":"65","k":"c","i":1,"x":38.546,"y":3.286},{"p":"65","k":"c","i":2,"x":38.32,"y":3.438},{"p":"65","k":"c","i":3,"x":38.094,"y":3.345},{"p":"65","k":"c","i":4,"x":38.0,"y":3.062},{"p":"65","k":"c","i":5,"x":38.094,"y":2.754},{"p":"65","k":"c","i":6,"x":38.32,"y":2.602},{"p":"65","k":"c","i":7,"x":38.546,"y":2.695}
],
"m": [
{"p":"10","t":"bead","x":-0.818,"y":0.1138},{"p":"10","t":"bead","x":-0.7895,"y":0.1105},{"p":"10","t":"bead","x":-0.8465,"y":0.1171},{"p":"10","t":"dot","x":-0.712,"y":0.0998},
{"p":"20","t":"bead","x":-0.8165,"y":-0.00285},{"p":"20","t":"bead","x":-0.7877,"y":-0.002716},{"p":"20","t":"bead","x":-0.8453,"y":-0.002984},
{"p":"30","t":"bead","x":-0.814,"y":2.468},{"p":"30","t":"bead","x":-0.7843,"y":2.307},{"p":"30","t":"bead","x":-0.8437,"y":2.629},{"p":"30","t":"dot","x":-0.709,"y":1.83},
{"p":"21","t":"bead","x":0.1131,"y":-0.00284},{"p":"21","t":"bead","x":0.1174,"y":-0.003009},{"p":"21","t":"bead","x":0.1088,"y":-0.002671},
{"p":"31","t":"bead","x":0.1129,"y":2.457},{"p":"31","t":"bead","x":0.1172,"y":2.647},{"p":"31","t":"bead","x":0.1086,"y":2.267},
{"p":"32","t":"bead","x":-0.002854,"y":2.457},{"p":"32","t":"bead","x":-0.00271,"y":2.296},{"p":"32","t":"bead","x":-0.002998,"y":2.618},{"p":"32","t":"dot","x":-0.0034,"y":3.11},{"p":"32","t":"dot","x":-0.00231,"y":1.823},
{"p":"40","t":"core","x":-0.812,"y":-2.14},{"p":"41","t":"core","x":0.1132,"y":-2.14},{"p":"42","t":"core","x":-0.00286,"y":-2.14},{"p":"43","t":"core","x":2.45,"y":-2.14},
{"p":"50","t":"core","x":-0.812,"y":38.32},{"p":"51","t":"core","x":0.1132,"y":38.32},{"p":"52","t":"core","x":-0.00286,"y":38.32},{"p":"53","t":"core","x":2.45,"y":38.32},{"p":"54","t":"core","x":-2.14,"y":38.32},
{"p":"60","t":"core","x":-0.812,"y":3.02},{"p":"61","t":"core","x":0.1132,"y":3.02},{"p":"62","t":"core","x":-0.00286,"y":3.02},{"p":"63","t":"core","x":2.45,"y":3.02},{"p":"64","t":"core","x":-2.14,"y":3.02},{"p":"65","t":"core","x":38.32,"y":3.02}
]
},
"concat": [
{"width":108,"height":107.5,"data":{"name":"h"},"transform":[{"filter":"datum.v==='c0'"}],"resolve":{"axis":{"y":"independent"}},"layer":[
{"mark":{"type":"line","interpolate":"step-after","stroke":"#111","strokeWidth":1.1,"clip":true},"encoding":{"x":{"field":"x","type":"quantitative","scale":{"domain":[-1.05,-0.51],"nice":false,"zero":false},"axis":{"values":[-0.9,-0.75,-0.6],"tickCount":10,"labels":false,"title":null}},"y":{"field":"n","type":"quantitative","scale":{"domain":[0,110],"nice":false},"axis":{"ticks":false,"labels":false,"title":"c\u2080\u2009=\u2009\u22128.1e\u2009\u2212\u200901","titleFontSize":10,"titleAngle":0,"titleAlign":"left","titleBaseline":"alphabetic","titleX":0.4,"titleY":-4.5}}}},
{"mark":{"type":"line","interpolate":"step-after","strokeOpacity":0},"encoding":{"x":{"field":"x","type":"quantitative"},"y":{"field":"n","type":"quantitative","axis":{"orient":"right","ticks":false,"labels":false,"title":["+5.9e\u221202","\u22125.7e\u221202"],"titleFontSize":5.8,"titleAngle":0,"titleAlign":"left","titleBaseline":"alphabetic","titleX":-30,"titleY":-8.5,"titleLineHeight":5.3}}}}
]},
{"width":108,"height":107.5,"data":{"values":[]},"mark":"point","view":{"stroke":null}},
{"width":108,"height":107.5,"data":{"values":[]},"mark":"point","view":{"stroke":null}},
{"width":108,"height":107.5,"data":{"values":[]},"mark":"point","view":{"stroke":null}},
{"width":108,"height":107.5,"data":{"values":[]},"mark":"point","view":{"stroke":null}},
{"width":108,"height":107.5,"data":{"values":[]},"mark":"point","view":{"stroke":null}},
{"width":108,"height":107.5,"data":{"values":[]},"mark":"point","view":{"stroke":null}},
{"width":108,"height":107.5,"layer":[
{"data":{"name":"c"},"transform":[{"filter":"datum.p==='10'"}],"mark":{"type":"line","interpolate":"cardinal-closed","stroke":"#000","strokeWidth":1,"clip":true},"encoding":{"x":{"field":"x","type":"quantitative","scale":{"domain":[-1.05,-0.51],"nice":false,"zero":false},"axis":{"values":[-0.9,-0.75,-0.6],"tickCount":10,"labels":false,"title":null}},"y":{"field":"y","type":"quantitative","scale":{"domain":[0.0745,0.1425],"nice":false,"zero":false},"axis":{"values":[0.075,0.09,0.105,0.12,0.135],"tickCount":10,"format":".3f","labelOverlap":false,"title":"c\u2081","titleX":-33,"titleY":53.75,"titleAngle":-90,"titleAlign":"center","titleBaseline":"middle"}},"fill":{"field":"k","type":"nominal","scale":{"domain":["a","b","c"],"range":["#f3f3f3","#c0c0c0","#808080"]},"legend":null},"order":{"field":"i","type":"quantitative"}}},
{"data":{"name":"m"},"transform":[{"filter":"datum.p==='10'"}],"mark":{"type":"point","filled":true,"color":"#000","opacity":1,"clip":true},"encoding":{"x":{"field":"x","type":"quantitative"},"y":{"field":"y","type":"quantitative"},"shape":{"field":"t","type":"nominal","scale":{"domain":["core","bead","dot"],"range":["square","circle","circle"]},"legend":null},"size":{"field":"t","type":"ordinal","scale":{"domain":["core","bead","dot"],"range":[30,14,5]},"legend":null}}}
]},
{"width":108,"height":107.5,"data":{"name":"h"},"transform":[{"filter":"datum.v==='c1'"}],"resolve":{"axis":{"y":"independent"}},"layer":[
{"mark":{"type":"line","interpolate":"step-after","stroke":"#111","strokeWidth":1.1,"clip":true},"encoding":{"x":{"field":"x","type":"quantitative","scale":{"domain":[0.0745,0.1425],"nice":false,"zero":false},"axis":{"values":[0.075,0.09,0.105,0.12,0.135],"tickCount":10,"labels":false,"title":null}},"y":{"field":"n","type":"quantitative","scale":{"domain":[0,110],"nice":false},"axis":{"ticks":false,"labels":false,"title":"c\u2081\u2009=\u20091.1e\u2009\u2212\u200901","titleFontSize":10,"titleAngle":0,"titleAlign":"left","titleBaseline":"alphabetic","titleX":3,"titleY":-4.5}}}},
{"mark":{"type":"line","interpolate":"step-after","strokeOpacity":0},"encoding":{"x":{"field":"x","type":"quantitative"},"y":{"field":"n","type":"quantitative","axis":{"orient":"right","ticks":false,"labels":false,"title":["+7.3e\u221203","\u22127.6e\u221203"],"titleFontSize":5.8,"titleAngle":0,"titleAlign":"left","titleBaseline":"alphabetic","titleX":-36,"titleY":-8.5,"titleLineHeight":5.3}}}}
]},
{"width":108,"height":107.5,"data":{"values":[]},"mark":"point","view":{"stroke":null}},
{"width":108,"height":107.5,"data":{"values":[]},"mark":"point","view":{"stroke":null}},
{"width":108,"height":107.5,"data":{"values":[]},"mark":"point","view":{"stroke":null}},
{"width":108,"height":107.5,"data":{"values":[]},"mark":"point","view":{"stroke":null}},
{"width":108,"height":107.5,"data":{"values":[]},"mark":"point","view":{"stroke":null}},
{"width":108,"height":107.5,"layer":[
{"data":{"name":"c"},"transform":[{"filter":"datum.p==='20'"}],"mark":{"type":"line","interpolate":"cardinal-closed","stroke":"#000","strokeWidth":1,"clip":true},"encoding":{"x":{"field":"x","type":"quantitative","scale":{"domain":[-1.05,-0.51],"nice":false,"zero":false},"axis":{"values":[-0.9,-0.75,-0.6],"tickCount":10,"labels":false,"title":null}},"y":{"field":"y","type":"quantitative","scale":{"domain":[-0.004,-0.0013],"nice":false,"zero":false},"axis":{"values":[-0.0036,-0.003,-0.0024,-0.0018],"tickCount":10,"format":".4f","labelOverlap":false,"title":"c\u2082","titleX":-33,"titleY":53.75,"titleAngle":-90,"titleAlign":"center","titleBaseline":"middle"}},"fill":{"field":"k","type":"nominal","scale":{"domain":["a","b","c"],"range":["#f3f3f3","#c0c0c0","#808080"]},"legend":null},"order":{"field":"i","type":"quantitative"}}},
{"data":{"name":"m"},"transform":[{"filter":"datum.p==='20'"}],"mark":{"type":"point","filled":true,"color":"#000","opacity":1,"clip":true},"encoding":{"x":{"field":"x","type":"quantitative"},"y":{"field":"y","type":"quantitative"},"shape":{"field":"t","type":"nominal","scale":{"domain":["core","bead","dot"],"range":["square","circle","circle"]},"legend":null},"size":{"field":"t","type":"ordinal","scale":{"domain":["core","bead","dot"],"range":[30,14,5]},"legend":null}}}
]},
{"width":108,"height":107.5,"layer":[
{"data":{"name":"c"},"transform":[{"filter":"datum.p==='21'"}],"mark":{"type":"line","interpolate":"cardinal-closed","stroke":"#000","strokeWidth":1,"clip":true},"encoding":{"x":{"field":"x","type":"quantitative","scale":{"domain":[0.0745,0.1425],"nice":false,"zero":false},"axis":{"values":[0.075,0.09,0.105,0.12,0.135],"tickCount":10,"labels":false,"title":null}},"y":{"field":"y","type":"quantitative","scale":{"domain":[-0.004,-0.0013],"nice":false,"zero":false},"axis":{"values":[-0.0036,-0.003,-0.0024,-0.0018],"tickCount":10,"labels":false,"title":null}},"fill":{"field":"k","type":"nominal","scale":{"domain":["a","b","c"],"range":["#f3f3f3","#c0c0c0","#808080"]},"legend":null},"order":{"field":"i","type":"quantitative"}}},
{"data":{"name":"m"},"transform":[{"filter":"datum.p==='21'"}],"mark":{"type":"point","filled":true,"color":"#000","opacity":1,"clip":true},"encoding":{"x":{"field":"x","type":"quantitative"},"y":{"field":"y","type":"quantitative"},"shape":{"field":"t","type":"nominal","scale":{"domain":["core","bead","dot"],"range":["square","circle","circle"]},"legend":null},"size":{"field":"t","type":"ordinal","scale":{"domain":["core","bead","dot"],"range":[30,14,5]},"legend":null}}}
]},
{"width":108,"height":107.5,"data":{"name":"h"},"transform":[{"filter":"datum.v==='c2'"}],"resolve":{"axis":{"y":"independent"}},"layer":[
{"mark":{"type":"line","interpolate":"step-after","stroke":"#111","strokeWidth":1.1,"clip":true},"encoding":{"x":{"field":"x","type":"quantitative","scale":{"domain":[-0.004,-0.0013],"nice":false,"zero":false},"axis":{"values":[-0.0036,-0.003,-0.0024,-0.0018],"tickCount":10,"labels":false,"title":null}},"y":{"field":"n","type":"quantitative","scale":{"domain":[0,110],"nice":false},"axis":{"ticks":false,"labels":false,"title":"c\u2082\u2009=\u2009\u22122.9e\u2009\u2212\u200903","titleFontSize":10,"titleAngle":0,"titleAlign":"left","titleBaseline":"alphabetic","titleX":0,"titleY":-4.5}}}},
{"mark":{"type":"line","interpolate":"step-after","strokeOpacity":0},"encoding":{"x":{"field":"x","type":"quantitative"},"y":{"field":"n","type":"quantitative","axis":{"orient":"right","ticks":false,"labels":false,"title":["+3.0e\u221204","\u22122.9e\u221204"],"titleFontSize":5.8,"titleAngle":0,"titleAlign":"left","titleBaseline":"alphabetic","titleX":-30.3,"titleY":-8.5,"titleLineHeight":5.3}}}}
]},
{"width":108,"height":107.5,"data":{"values":[]},"mark":"point","view":{"stroke":null}},
{"width":108,"height":107.5,"data":{"values":[]},"mark":"point","view":{"stroke":null}},
{"width":108,"height":107.5,"data":{"values":[]},"mark":"point","view":{"stroke":null}},
{"width":108,"height":107.5,"data":{"values":[]},"mark":"point","view":{"stroke":null}},
{"width":108,"height":107.5,"title":{"text":"1e\u22125","anchor":"start","frame":"group","fontSize":7.5,"offset":2},"layer":[
{"data":{"name":"c"},"transform":[{"filter":"datum.p==='30'"}],"mark":{"type":"line","interpolate":"cardinal-closed","stroke":"#000","strokeWidth":1,"clip":true},"encoding":{"x":{"field":"x","type":"quantitative","scale":{"domain":[-1.05,-0.51],"nice":false,"zero":false},"axis":{"values":[-0.9,-0.75,-0.6],"tickCount":10,"labels":false,"title":null}},"y":{"field":"y","type":"quantitative","scale":{"domain":[0.64,3.81],"nice":false,"zero":false},"axis":{"values":[0.8,1.6,2.4,3.2],"tickCount":10,"format":".1f","labelOverlap":false,"title":"c\u2083","titleX":-33,"titleY":53.75,"titleAngle":-90,"titleAlign":"center","titleBaseline":"middle"}},"fill":{"field":"k","type":"nominal","scale":{"domain":["a","b","c"],"range":["#f3f3f3","#c0c0c0","#808080"]},"legend":null},"order":{"field":"i","type":"quantitative"}}},
{"data":{"name":"m"},"transform":[{"filter":"datum.p==='30'"}],"mark":{"type":"point","filled":true,"color":"#000","opacity":1,"clip":true},"encoding":{"x":{"field":"x","type":"quantitative"},"y":{"field":"y","type":"quantitative"},"shape":{"field":"t","type":"nominal","scale":{"domain":["core","bead","dot"],"range":["square","circle","circle"]},"legend":null},"size":{"field":"t","type":"ordinal","scale":{"domain":["core","bead","dot"],"range":[30,14,5]},"legend":null}}}
]},
{"width":108,"height":107.5,"layer":[
{"data":{"name":"c"},"transform":[{"filter":"datum.p==='31'"}],"mark":{"type":"line","interpolate":"cardinal-closed","stroke":"#000","strokeWidth":1,"clip":true},"encoding":{"x":{"field":"x","type":"quantitative","scale":{"domain":[0.0745,0.1425],"nice":false,"zero":false},"axis":{"values":[0.075,0.09,0.105,0.12,0.135],"tickCount":10,"labels":false,"title":null}},"y":{"field":"y","type":"quantitative","scale":{"domain":[0.64,3.81],"nice":false,"zero":false},"axis":{"values":[0.8,1.6,2.4,3.2],"tickCount":10,"labels":false,"title":null}},"fill":{"field":"k","type":"nominal","scale":{"domain":["a","b","c"],"range":["#f3f3f3","#c0c0c0","#808080"]},"legend":null},"order":{"field":"i","type":"quantitative"}}},
{"data":{"name":"m"},"transform":[{"filter":"datum.p==='31'"}],"mark":{"type":"point","filled":true,"color":"#000","opacity":1,"clip":true},"encoding":{"x":{"field":"x","type":"quantitative"},"y":{"field":"y","type":"quantitative"},"shape":{"field":"t","type":"nominal","scale":{"domain":["core","bead","dot"],"range":["square","circle","circle"]},"legend":null},"size":{"field":"t","type":"ordinal","scale":{"domain":["core","bead","dot"],"range":[30,14,5]},"legend":null}}}
]},
{"width":108,"height":107.5,"layer":[
{"data":{"name":"c"},"transform":[{"filter":"datum.p==='32'"}],"mark":{"type":"line","interpolate":"cardinal-closed","stroke":"#000","strokeWidth":1,"clip":true},"encoding":{"x":{"field":"x","type":"quantitative","scale":{"domain":[-0.004,-0.0013],"nice":false,"zero":false},"axis":{"values":[-0.0036,-0.003,-0.0024,-0.0018],"tickCount":10,"labels":false,"title":null}},"y":{"field":"y","type":"quantitative","scale":{"domain":[0.64,3.81],"nice":false,"zero":false},"axis":{"values":[0.8,1.6,2.4,3.2],"tickCount":10,"labels":false,"title":null}},"fill":{"field":"k","type":"nominal","scale":{"domain":["a","b","c"],"range":["#f3f3f3","#c0c0c0","#808080"]},"legend":null},"order":{"field":"i","type":"quantitative"}}},
{"data":{"name":"m"},"transform":[{"filter":"datum.p==='32'"}],"mark":{"type":"point","filled":true,"color":"#000","opacity":1,"clip":true},"encoding":{"x":{"field":"x","type":"quantitative"},"y":{"field":"y","type":"quantitative"},"shape":{"field":"t","type":"nominal","scale":{"domain":["core","bead","dot"],"range":["square","circle","circle"]},"legend":null},"size":{"field":"t","type":"ordinal","scale":{"domain":["core","bead","dot"],"range":[30,14,5]},"legend":null}}}
]},
{"width":108,"height":107.5,"data":{"name":"h"},"transform":[{"filter":"datum.v==='c3'"}],"resolve":{"axis":{"y":"independent"}},"layer":[
{"mark":{"type":"line","interpolate":"step-after","stroke":"#111","strokeWidth":1.1,"clip":true},"encoding":{"x":{"field":"x","type":"quantitative","scale":{"domain":[0.64,3.81],"nice":false,"zero":false},"axis":{"values":[0.8,1.6,2.4,3.2],"tickCount":10,"labels":false,"title":null}},"y":{"field":"n","type":"quantitative","scale":{"domain":[0,110],"nice":false},"axis":{"ticks":false,"labels":false,"title":"c\u2083\u2009=\u20092.5e\u2009\u2212\u200905","titleFontSize":10,"titleAngle":0,"titleAlign":"left","titleBaseline":"alphabetic","titleX":4.3,"titleY":-4.5}}}},
{"mark":{"type":"line","interpolate":"step-after","strokeOpacity":0},"encoding":{"x":{"field":"x","type":"quantitative"},"y":{"field":"n","type":"quantitative","axis":{"orient":"right","ticks":false,"labels":false,"title":["+3.3e\u221206","\u22123.5e\u221206"],"titleFontSize":5.8,"titleAngle":0,"titleAlign":"left","titleBaseline":"alphabetic","titleX":-34.5,"titleY":-8.5,"titleLineHeight":5.3}}}}
]},
{"width":108,"height":107.5,"data":{"values":[]},"mark":"point","view":{"stroke":null}},
{"width":108,"height":107.5,"data":{"values":[]},"mark":"point","view":{"stroke":null}},
{"width":108,"height":107.5,"data":{"values":[]},"mark":"point","view":{"stroke":null}},
{"width":108,"height":107.5,"layer":[
{"data":{"name":"c"},"transform":[{"filter":"datum.p==='40'"}],"mark":{"type":"line","interpolate":"cardinal-closed","stroke":"#000","strokeWidth":1,"clip":true},"encoding":{"x":{"field":"x","type":"quantitative","scale":{"domain":[-1.05,-0.51],"nice":false,"zero":false},"axis":{"values":[-0.9,-0.75,-0.6],"tickCount":10,"labels":false,"title":null}},"y":{"field":"y","type":"quantitative","scale":{"domain":[-3.93,-0.94],"nice":false,"zero":false},"axis":{"values":[-3.6,-3,-2.4,-1.8,-1.2],"tickCount":10,"format":".1f","labelOverlap":false,"title":"ACyc","titleX":-33,"titleY":53.75,"titleAngle":-90,"titleAlign":"center","titleBaseline":"middle"}},"fill":{"field":"k","type":"nominal","scale":{"domain":["a","b","c"],"range":["#f3f3f3","#c0c0c0","#808080"]},"legend":null},"order":{"field":"i","type":"quantitative"}}},
{"data":{"name":"m"},"transform":[{"filter":"datum.p==='40'"}],"mark":{"type":"point","filled":true,"color":"#000","opacity":1,"clip":true},"encoding":{"x":{"field":"x","type":"quantitative"},"y":{"field":"y","type":"quantitative"},"shape":{"field":"t","type":"nominal","scale":{"domain":["core","bead","dot"],"range":["square","circle","circle"]},"legend":null},"size":{"field":"t","type":"ordinal","scale":{"domain":["core","bead","dot"],"range":[30,14,5]},"legend":null}}}
]},
{"width":108,"height":107.5,"layer":[
{"data":{"name":"c"},"transform":[{"filter":"datum.p==='41'"}],"mark":{"type":"line","interpolate":"cardinal-closed","stroke":"#000","strokeWidth":1,"clip":true},"encoding":{"x":{"field":"x","type":"quantitative","scale":{"domain":[0.0745,0.1425],"nice":false,"zero":false},"axis":{"values":[0.075,0.09,0.105,0.12,0.135],"tickCount":10,"labels":false,"title":null}},"y":{"field":"y","type":"quantitative","scale":{"domain":[-3.93,-0.94],"nice":false,"zero":false},"axis":{"values":[-3.6,-3,-2.4,-1.8,-1.2],"tickCount":10,"labels":false,"title":null}},"fill":{"field":"k","type":"nominal","scale":{"domain":["a","b","c"],"range":["#f3f3f3","#c0c0c0","#808080"]},"legend":null},"order":{"field":"i","type":"quantitative"}}},
{"data":{"name":"m"},"transform":[{"filter":"datum.p==='41'"}],"mark":{"type":"point","filled":true,"color":"#000","opacity":1,"clip":true},"encoding":{"x":{"field":"x","type":"quantitative"},"y":{"field":"y","type":"quantitative"},"shape":{"field":"t","type":"nominal","scale":{"domain":["core","bead","dot"],"range":["square","circle","circle"]},"legend":null},"size":{"field":"t","type":"ordinal","scale":{"domain":["core","bead","dot"],"range":[30,14,5]},"legend":null}}}
]},
{"width":108,"height":107.5,"layer":[
{"data":{"name":"c"},"transform":[{"filter":"datum.p==='42'"}],"mark":{"type":"line","interpolate":"cardinal-closed","stroke":"#000","strokeWidth":1,"clip":true},"encoding":{"x":{"field":"x","type":"quantitative","scale":{"domain":[-0.004,-0.0013],"nice":false,"zero":false},"axis":{"values":[-0.0036,-0.003,-0.0024,-0.0018],"tickCount":10,"labels":false,"title":null}},"y":{"field":"y","type":"quantitative","scale":{"domain":[-3.93,-0.94],"nice":false,"zero":false},"axis":{"values":[-3.6,-3,-2.4,-1.8,-1.2],"tickCount":10,"labels":false,"title":null}},"fill":{"field":"k","type":"nominal","scale":{"domain":["a","b","c"],"range":["#f3f3f3","#c0c0c0","#808080"]},"legend":null},"order":{"field":"i","type":"quantitative"}}},
{"data":{"name":"m"},"transform":[{"filter":"datum.p==='42'"}],"mark":{"type":"point","filled":true,"color":"#000","opacity":1,"clip":true},"encoding":{"x":{"field":"x","type":"quantitative"},"y":{"field":"y","type":"quantitative"},"shape":{"field":"t","type":"nominal","scale":{"domain":["core","bead","dot"],"range":["square","circle","circle"]},"legend":null},"size":{"field":"t","type":"ordinal","scale":{"domain":["core","bead","dot"],"range":[30,14,5]},"legend":null}}}
]},
{"width":108,"height":107.5,"layer":[
{"data":{"name":"c"},"transform":[{"filter":"datum.p==='43'"}],"mark":{"type":"line","interpolate":"cardinal-closed","stroke":"#000","strokeWidth":1,"clip":true},"encoding":{"x":{"field":"x","type":"quantitative","scale":{"domain":[0.64,3.81],"nice":false,"zero":false},"axis":{"values":[0.8,1.6,2.4,3.2],"tickCount":10,"labels":false,"title":null}},"y":{"field":"y","type":"quantitative","scale":{"domain":[-3.93,-0.94],"nice":false,"zero":false},"axis":{"values":[-3.6,-3,-2.4,-1.8,-1.2],"tickCount":10,"labels":false,"title":null}},"fill":{"field":"k","type":"nominal","scale":{"domain":["a","b","c"],"range":["#f3f3f3","#c0c0c0","#808080"]},"legend":null},"order":{"field":"i","type":"quantitative"}}},
{"data":{"name":"m"},"transform":[{"filter":"datum.p==='43'"}],"mark":{"type":"point","filled":true,"color":"#000","opacity":1,"clip":true},"encoding":{"x":{"field":"x","type":"quantitative"},"y":{"field":"y","type":"quantitative"},"shape":{"field":"t","type":"nominal","scale":{"domain":["core","bead","dot"],"range":["square","circle","circle"]},"legend":null},"size":{"field":"t","type":"ordinal","scale":{"domain":["core","bead","dot"],"range":[30,14,5]},"legend":null}}}
]},
{"width":108,"height":107.5,"data":{"name":"h"},"transform":[{"filter":"datum.v==='A'"}],"resolve":{"axis":{"y":"independent"}},"layer":[
{"mark":{"type":"line","interpolate":"step-after","stroke":"#111","strokeWidth":1.1,"clip":true},"encoding":{"x":{"field":"x","type":"quantitative","scale":{"domain":[-3.93,-0.94],"nice":false,"zero":false},"axis":{"values":[-3.6,-3,-2.4,-1.8,-1.2],"tickCount":10,"labels":false,"title":null}},"y":{"field":"n","type":"quantitative","scale":{"domain":[0,110],"nice":false},"axis":{"ticks":false,"labels":false,"title":"ACyc\u2009=\u2009\u22122.2e\u2009+\u200900","titleFontSize":10,"titleAngle":0,"titleAlign":"left","titleBaseline":"alphabetic","titleX":-8.5,"titleY":-4.5}}}},
{"mark":{"type":"line","interpolate":"step-after","strokeOpacity":0},"encoding":{"x":{"field":"x","type":"quantitative"},"y":{"field":"n","type":"quantitative","axis":{"orient":"right","ticks":false,"labels":false,"title":["+2.9e\u221201","\u22123.1e\u221201"],"titleFontSize":5.8,"titleAngle":0,"titleAlign":"left","titleBaseline":"alphabetic","titleX":-23,"titleY":-8.5,"titleLineHeight":5.3}}}}
]},
{"width":108,"height":107.5,"data":{"values":[]},"mark":"point","view":{"stroke":null}},
{"width":108,"height":107.5,"data":{"values":[]},"mark":"point","view":{"stroke":null}},
{"width":108,"height":107.5,"layer":[
{"data":{"name":"c"},"transform":[{"filter":"datum.p==='50'"}],"mark":{"type":"line","interpolate":"cardinal-closed","stroke":"#000","strokeWidth":1,"clip":true},"encoding":{"x":{"field":"x","type":"quantitative","scale":{"domain":[-1.05,-0.51],"nice":false,"zero":false},"axis":{"values":[-0.9,-0.75,-0.6],"tickCount":10,"labels":false,"title":null}},"y":{"field":"y","type":"quantitative","scale":{"domain":[36.84,39.95],"nice":false,"zero":false},"axis":{"values":[37.6,38.4,39.2],"tickCount":10,"format":".1f","labelOverlap":false,"title":"ECyc","titleX":-33,"titleY":53.75,"titleAngle":-90,"titleAlign":"center","titleBaseline":"middle"}},"fill":{"field":"k","type":"nominal","scale":{"domain":["a","b","c"],"range":["#f3f3f3","#c0c0c0","#808080"]},"legend":null},"order":{"field":"i","type":"quantitative"}}},
{"data":{"name":"m"},"transform":[{"filter":"datum.p==='50'"}],"mark":{"type":"point","filled":true,"color":"#000","opacity":1,"clip":true},"encoding":{"x":{"field":"x","type":"quantitative"},"y":{"field":"y","type":"quantitative"},"shape":{"field":"t","type":"nominal","scale":{"domain":["core","bead","dot"],"range":["square","circle","circle"]},"legend":null},"size":{"field":"t","type":"ordinal","scale":{"domain":["core","bead","dot"],"range":[30,14,5]},"legend":null}}}
]},
{"width":108,"height":107.5,"layer":[
{"data":{"name":"c"},"transform":[{"filter":"datum.p==='51'"}],"mark":{"type":"line","interpolate":"cardinal-closed","stroke":"#000","strokeWidth":1,"clip":true},"encoding":{"x":{"field":"x","type":"quantitative","scale":{"domain":[0.0745,0.1425],"nice":false,"zero":false},"axis":{"values":[0.075,0.09,0.105,0.12,0.135],"tickCount":10,"labels":false,"title":null}},"y":{"field":"y","type":"quantitative","scale":{"domain":[36.84,39.95],"nice":false,"zero":false},"axis":{"values":[37.6,38.4,39.2],"tickCount":10,"labels":false,"title":null}},"fill":{"field":"k","type":"nominal","scale":{"domain":["a","b","c"],"range":["#f3f3f3","#c0c0c0","#808080"]},"legend":null},"order":{"field":"i","type":"quantitative"}}},
{"data":{"name":"m"},"transform":[{"filter":"datum.p==='51'"}],"mark":{"type":"point","filled":true,"color":"#000","opacity":1,"clip":true},"encoding":{"x":{"field":"x","type":"quantitative"},"y":{"field":"y","type":"quantitative"},"shape":{"field":"t","type":"nominal","scale":{"domain":["core","bead","dot"],"range":["square","circle","circle"]},"legend":null},"size":{"field":"t","type":"ordinal","scale":{"domain":["core","bead","dot"],"range":[30,14,5]},"legend":null}}}
]},
{"width":108,"height":107.5,"layer":[
{"data":{"name":"c"},"transform":[{"filter":"datum.p==='52'"}],"mark":{"type":"line","interpolate":"cardinal-closed","stroke":"#000","strokeWidth":1,"clip":true},"encoding":{"x":{"field":"x","type":"quantitative","scale":{"domain":[-0.004,-0.0013],"nice":false,"zero":false},"axis":{"values":[-0.0036,-0.003,-0.0024,-0.0018],"tickCount":10,"labels":false,"title":null}},"y":{"field":"y","type":"quantitative","scale":{"domain":[36.84,39.95],"nice":false,"zero":false},"axis":{"values":[37.6,38.4,39.2],"tickCount":10,"labels":false,"title":null}},"fill":{"field":"k","type":"nominal","scale":{"domain":["a","b","c"],"range":["#f3f3f3","#c0c0c0","#808080"]},"legend":null},"order":{"field":"i","type":"quantitative"}}},
{"data":{"name":"m"},"transform":[{"filter":"datum.p==='52'"}],"mark":{"type":"point","filled":true,"color":"#000","opacity":1,"clip":true},"encoding":{"x":{"field":"x","type":"quantitative"},"y":{"field":"y","type":"quantitative"},"shape":{"field":"t","type":"nominal","scale":{"domain":["core","bead","dot"],"range":["square","circle","circle"]},"legend":null},"size":{"field":"t","type":"ordinal","scale":{"domain":["core","bead","dot"],"range":[30,14,5]},"legend":null}}}
]},
{"width":108,"height":107.5,"layer":[
{"data":{"name":"c"},"transform":[{"filter":"datum.p==='53'"}],"mark":{"type":"line","interpolate":"cardinal-closed","stroke":"#000","strokeWidth":1,"clip":true},"encoding":{"x":{"field":"x","type":"quantitative","scale":{"domain":[0.64,3.81],"nice":false,"zero":false},"axis":{"values":[0.8,1.6,2.4,3.2],"tickCount":10,"labels":false,"title":null}},"y":{"field":"y","type":"quantitative","scale":{"domain":[36.84,39.95],"nice":false,"zero":false},"axis":{"values":[37.6,38.4,39.2],"tickCount":10,"labels":false,"title":null}},"fill":{"field":"k","type":"nominal","scale":{"domain":["a","b","c"],"range":["#f3f3f3","#c0c0c0","#808080"]},"legend":null},"order":{"field":"i","type":"quantitative"}}},
{"data":{"name":"m"},"transform":[{"filter":"datum.p==='53'"}],"mark":{"type":"point","filled":true,"color":"#000","opacity":1,"clip":true},"encoding":{"x":{"field":"x","type":"quantitative"},"y":{"field":"y","type":"quantitative"},"shape":{"field":"t","type":"nominal","scale":{"domain":["core","bead","dot"],"range":["square","circle","circle"]},"legend":null},"size":{"field":"t","type":"ordinal","scale":{"domain":["core","bead","dot"],"range":[30,14,5]},"legend":null}}}
]},
{"width":108,"height":107.5,"layer":[
{"data":{"name":"c"},"transform":[{"filter":"datum.p==='54'"}],"mark":{"type":"line","interpolate":"cardinal-closed","stroke":"#000","strokeWidth":1,"clip":true},"encoding":{"x":{"field":"x","type":"quantitative","scale":{"domain":[-3.93,-0.94],"nice":false,"zero":false},"axis":{"values":[-3.6,-3,-2.4,-1.8,-1.2],"tickCount":10,"labels":false,"title":null}},"y":{"field":"y","type":"quantitative","scale":{"domain":[36.84,39.95],"nice":false,"zero":false},"axis":{"values":[37.6,38.4,39.2],"tickCount":10,"labels":false,"title":null}},"fill":{"field":"k","type":"nominal","scale":{"domain":["a","b","c"],"range":["#f3f3f3","#c0c0c0","#808080"]},"legend":null},"order":{"field":"i","type":"quantitative"}}},
{"data":{"name":"m"},"transform":[{"filter":"datum.p==='54'"}],"mark":{"type":"point","filled":true,"color":"#000","opacity":1,"clip":true},"encoding":{"x":{"field":"x","type":"quantitative"},"y":{"field":"y","type":"quantitative"},"shape":{"field":"t","type":"nominal","scale":{"domain":["core","bead","dot"],"range":["square","circle","circle"]},"legend":null},"size":{"field":"t","type":"ordinal","scale":{"domain":["core","bead","dot"],"range":[30,14,5]},"legend":null}}}
]},
{"width":108,"height":107.5,"data":{"name":"h"},"transform":[{"filter":"datum.v==='E'"}],"resolve":{"axis":{"y":"independent"}},"layer":[
{"mark":{"type":"line","interpolate":"step-after","stroke":"#111","strokeWidth":1.1,"clip":true},"encoding":{"x":{"field":"x","type":"quantitative","scale":{"domain":[36.84,39.95],"nice":false,"zero":false},"axis":{"values":[37.6,38.4,39.2],"tickCount":10,"labels":false,"title":null}},"y":{"field":"n","type":"quantitative","scale":{"domain":[0,110],"nice":false},"axis":{"ticks":false,"labels":false,"title":"ECyc\u2009=\u20093.8e\u2009+\u200901","titleFontSize":10,"titleAngle":0,"titleAlign":"left","titleBaseline":"alphabetic","titleX":-3.6,"titleY":-4.5}}}},
{"mark":{"type":"line","interpolate":"step-after","strokeOpacity":0},"encoding":{"x":{"field":"x","type":"quantitative"},"y":{"field":"n","type":"quantitative","axis":{"orient":"right","ticks":false,"labels":false,"title":["+3.1e\u221201","\u22123.1e\u221201"],"titleFontSize":5.8,"titleAngle":0,"titleAlign":"left","titleBaseline":"alphabetic","titleX":-27,"titleY":-8.5,"titleLineHeight":5.3}}}}
]},
{"width":108,"height":107.5,"data":{"values":[]},"mark":"point","view":{"stroke":null}},
{"width":108,"height":107.5,"layer":[
{"data":{"name":"c"},"transform":[{"filter":"datum.p==='60'"}],"mark":{"type":"line","interpolate":"cardinal-closed","stroke":"#000","strokeWidth":1,"clip":true},"encoding":{"x":{"field":"x","type":"quantitative","scale":{"domain":[-1.05,-0.51],"nice":false,"zero":false},"axis":{"values":[-0.9,-0.75,-0.6],"tickCount":10,"format":".2f","labelOverlap":false,"labelOffset":6,"title":"c\u2080","titleX":54,"titleY":35,"titleAlign":"center","titleBaseline":"middle"}},"y":{"field":"y","type":"quantitative","scale":{"domain":[1.04,5.59],"nice":false,"zero":false},"axis":{"values":[2,3,4,5],"tickCount":10,"format":"d","labelOverlap":false,"title":"\u03c3Cyc","titleX":-33,"titleY":53.75,"titleAngle":-90,"titleAlign":"center","titleBaseline":"middle"}},"fill":{"field":"k","type":"nominal","scale":{"domain":["a","b","c"],"range":["#f3f3f3","#c0c0c0","#808080"]},"legend":null},"order":{"field":"i","type":"quantitative"}}},
{"data":{"name":"m"},"transform":[{"filter":"datum.p==='60'"}],"mark":{"type":"point","filled":true,"color":"#000","opacity":1,"clip":true},"encoding":{"x":{"field":"x","type":"quantitative"},"y":{"field":"y","type":"quantitative"},"shape":{"field":"t","type":"nominal","scale":{"domain":["core","bead","dot"],"range":["square","circle","circle"]},"legend":null},"size":{"field":"t","type":"ordinal","scale":{"domain":["core","bead","dot"],"range":[30,14,5]},"legend":null}}}
]},
{"width":108,"height":107.5,"layer":[
{"data":{"name":"c"},"transform":[{"filter":"datum.p==='61'"}],"mark":{"type":"line","interpolate":"cardinal-closed","stroke":"#000","strokeWidth":1,"clip":true},"encoding":{"x":{"field":"x","type":"quantitative","scale":{"domain":[0.0745,0.1425],"nice":false,"zero":false},"axis":{"values":[0.075,0.09,0.105,0.12,0.135],"tickCount":10,"format":".3f","labelOverlap":false,"labelOffset":5.5,"title":"c\u2081","titleX":54,"titleY":35,"titleAlign":"center","titleBaseline":"middle"}},"y":{"field":"y","type":"quantitative","scale":{"domain":[1.04,5.59],"nice":false,"zero":false},"axis":{"values":[2,3,4,5],"tickCount":10,"labels":false,"title":null}},"fill":{"field":"k","type":"nominal","scale":{"domain":["a","b","c"],"range":["#f3f3f3","#c0c0c0","#808080"]},"legend":null},"order":{"field":"i","type":"quantitative"}}},
{"data":{"name":"m"},"transform":[{"filter":"datum.p==='61'"}],"mark":{"type":"point","filled":true,"color":"#000","opacity":1,"clip":true},"encoding":{"x":{"field":"x","type":"quantitative"},"y":{"field":"y","type":"quantitative"},"shape":{"field":"t","type":"nominal","scale":{"domain":["core","bead","dot"],"range":["square","circle","circle"]},"legend":null},"size":{"field":"t","type":"ordinal","scale":{"domain":["core","bead","dot"],"range":[30,14,5]},"legend":null}}}
]},
{"width":108,"height":107.5,"layer":[
{"data":{"name":"c"},"transform":[{"filter":"datum.p==='62'"}],"mark":{"type":"line","interpolate":"cardinal-closed","stroke":"#000","strokeWidth":1,"clip":true},"encoding":{"x":{"field":"x","type":"quantitative","scale":{"domain":[-0.004,-0.0013],"nice":false,"zero":false},"axis":{"values":[-0.0036,-0.003,-0.0024,-0.0018],"tickCount":10,"format":".4f","labelOverlap":false,"labelOffset":9,"title":"c\u2082","titleX":54,"titleY":35,"titleAlign":"center","titleBaseline":"middle"}},"y":{"field":"y","type":"quantitative","scale":{"domain":[1.04,5.59],"nice":false,"zero":false},"axis":{"values":[2,3,4,5],"tickCount":10,"labels":false,"title":null}},"fill":{"field":"k","type":"nominal","scale":{"domain":["a","b","c"],"range":["#f3f3f3","#c0c0c0","#808080"]},"legend":null},"order":{"field":"i","type":"quantitative"}}},
{"data":{"name":"m"},"transform":[{"filter":"datum.p==='62'"}],"mark":{"type":"point","filled":true,"color":"#000","opacity":1,"clip":true},"encoding":{"x":{"field":"x","type":"quantitative"},"y":{"field":"y","type":"quantitative"},"shape":{"field":"t","type":"nominal","scale":{"domain":["core","bead","dot"],"range":["square","circle","circle"]},"legend":null},"size":{"field":"t","type":"ordinal","scale":{"domain":["core","bead","dot"],"range":[30,14,5]},"legend":null}}}
]},
{"width":108,"height":107.5,"title":{"text":"1e\u22125","orient":"bottom","anchor":"end","frame":"group","fontSize":7.5,"offset":-18,"dx":23},"layer":[
{"data":{"name":"c"},"transform":[{"filter":"datum.p==='63'"}],"mark":{"type":"line","interpolate":"cardinal-closed","stroke":"#000","strokeWidth":1,"clip":true},"encoding":{"x":{"field":"x","type":"quantitative","scale":{"domain":[0.64,3.81],"nice":false,"zero":false},"axis":{"values":[0.8,1.6,2.4,3.2],"tickCount":10,"format":".1f","labelOverlap":false,"labelOffset":2.5,"title":"c\u2083","titleX":54,"titleY":35,"titleAlign":"center","titleBaseline":"middle"}},"y":{"field":"y","type":"quantitative","scale":{"domain":[1.04,5.59],"nice":false,"zero":false},"axis":{"values":[2,3,4,5],"tickCount":10,"labels":false,"title":null}},"fill":{"field":"k","type":"nominal","scale":{"domain":["a","b","c"],"range":["#f3f3f3","#c0c0c0","#808080"]},"legend":null},"order":{"field":"i","type":"quantitative"}}},
{"data":{"name":"m"},"transform":[{"filter":"datum.p==='63'"}],"mark":{"type":"point","filled":true,"color":"#000","opacity":1,"clip":true},"encoding":{"x":{"field":"x","type":"quantitative"},"y":{"field":"y","type":"quantitative"},"shape":{"field":"t","type":"nominal","scale":{"domain":["core","bead","dot"],"range":["square","circle","circle"]},"legend":null},"size":{"field":"t","type":"ordinal","scale":{"domain":["core","bead","dot"],"range":[30,14,5]},"legend":null}}}
]},
{"width":108,"height":107.5,"layer":[
{"data":{"name":"c"},"transform":[{"filter":"datum.p==='64'"}],"mark":{"type":"line","interpolate":"cardinal-closed","stroke":"#000","strokeWidth":1,"clip":true},"encoding":{"x":{"field":"x","type":"quantitative","scale":{"domain":[-3.93,-0.94],"nice":false,"zero":false},"axis":{"values":[-3.6,-3,-2.4,-1.8,-1.2],"tickCount":10,"format":".1f","labelOverlap":false,"labelOffset":4.5,"title":"ACyc","titleX":54,"titleY":35,"titleAlign":"center","titleBaseline":"middle"}},"y":{"field":"y","type":"quantitative","scale":{"domain":[1.04,5.59],"nice":false,"zero":false},"axis":{"values":[2,3,4,5],"tickCount":10,"labels":false,"title":null}},"fill":{"field":"k","type":"nominal","scale":{"domain":["a","b","c"],"range":["#f3f3f3","#c0c0c0","#808080"]},"legend":null},"order":{"field":"i","type":"quantitative"}}},
{"data":{"name":"m"},"transform":[{"filter":"datum.p==='64'"}],"mark":{"type":"point","filled":true,"color":"#000","opacity":1,"clip":true},"encoding":{"x":{"field":"x","type":"quantitative"},"y":{"field":"y","type":"quantitative"},"shape":{"field":"t","type":"nominal","scale":{"domain":["core","bead","dot"],"range":["square","circle","circle"]},"legend":null},"size":{"field":"t","type":"ordinal","scale":{"domain":["core","bead","dot"],"range":[30,14,5]},"legend":null}}}
]},
{"width":108,"height":107.5,"layer":[
{"data":{"name":"c"},"transform":[{"filter":"datum.p==='65'"}],"mark":{"type":"line","interpolate":"cardinal-closed","stroke":"#000","strokeWidth":1,"clip":true},"encoding":{"x":{"field":"x","type":"quantitative","scale":{"domain":[36.84,39.95],"nice":false,"zero":false},"axis":{"values":[37.6,38.4,39.2],"tickCount":10,"format":".1f","labelOverlap":false,"labelOffset":4,"title":"ECyc","titleX":54,"titleY":35,"titleAlign":"center","titleBaseline":"middle"}},"y":{"field":"y","type":"quantitative","scale":{"domain":[1.04,5.59],"nice":false,"zero":false},"axis":{"values":[2,3,4,5],"tickCount":10,"labels":false,"title":null}},"fill":{"field":"k","type":"nominal","scale":{"domain":["a","b","c"],"range":["#f3f3f3","#c0c0c0","#808080"]},"legend":null},"order":{"field":"i","type":"quantitative"}}},
{"data":{"name":"m"},"transform":[{"filter":"datum.p==='65'"}],"mark":{"type":"point","filled":true,"color":"#000","opacity":1,"clip":true},"encoding":{"x":{"field":"x","type":"quantitative"},"y":{"field":"y","type":"quantitative"},"shape":{"field":"t","type":"nominal","scale":{"domain":["core","bead","dot"],"range":["square","circle","circle"]},"legend":null},"size":{"field":"t","type":"ordinal","scale":{"domain":["core","bead","dot"],"range":[30,14,5]},"legend":null}}}
]},
{"width":108,"height":107.5,"data":{"name":"h"},"transform":[{"filter":"datum.v==='S'"}],"resolve":{"axis":{"y":"independent"}},"layer":[
{"mark":{"type":"line","interpolate":"step-after","stroke":"#111","strokeWidth":1.1,"clip":true},"encoding":{"x":{"field":"x","type":"quantitative","scale":{"domain":[1.04,5.59],"nice":false,"zero":false},"axis":{"values":[2,3,4,5],"tickCount":10,"format":"d","labelOverlap":false,"labelOffset":1,"title":"\u03c3Cyc","titleX":54,"titleY":35,"titleAlign":"center","titleBaseline":"middle"}},"y":{"field":"n","type":"quantitative","scale":{"domain":[0,110],"nice":false},"axis":{"ticks":false,"labels":false,"title":"\u03c3Cyc\u2009=\u20093.1e\u2009+\u200900","titleFontSize":10,"titleAngle":0,"titleAlign":"left","titleBaseline":"alphabetic","titleX":-6,"titleY":-4.5}}}},
{"mark":{"type":"line","interpolate":"step-after","strokeOpacity":0},"encoding":{"x":{"field":"x","type":"quantitative"},"y":{"field":"n","type":"quantitative","axis":{"orient":"right","ticks":false,"labels":false,"title":["+4.2e\u221201","\u22124.3e\u221201"],"titleFontSize":5.8,"titleAngle":0,"titleAlign":"left","titleBaseline":"alphabetic","titleX":-29.5,"titleY":-8.5,"titleLineHeight":5.3}}}}
]}
]
}
